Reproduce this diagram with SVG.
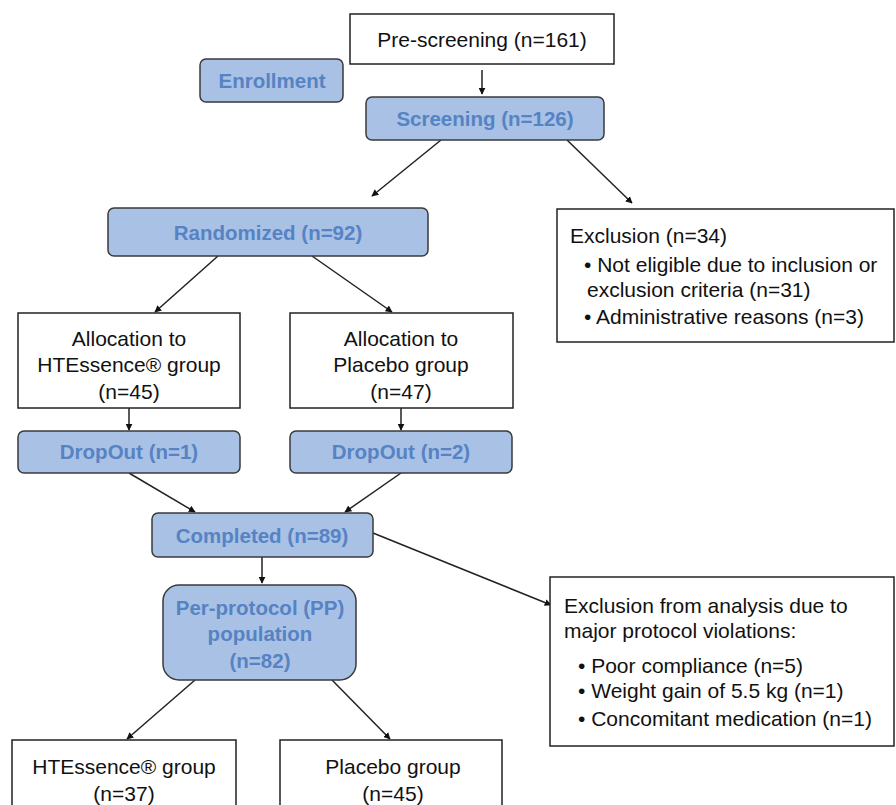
<svg xmlns="http://www.w3.org/2000/svg" width="896" height="805" viewBox="0 0 896 805">
<style>
.w{fill:#fff;stroke:#222;stroke-width:1.5}
.b{fill:#a9c1e5;stroke:#3a3a3a;stroke-width:1.5}
.t{font-family:"Liberation Sans",Arial,sans-serif;font-size:21px;fill:#111}
.bt{font-family:"Liberation Sans",Arial,sans-serif;font-size:20.5px;font-weight:bold;fill:#5583c3}
.c{text-anchor:middle}
.ln{stroke:#222;stroke-width:1.5;fill:none;marker-end:url(#ah)}
</style>
<defs>
<marker id="ah" viewBox="0 0 10 10" refX="9" refY="5" markerWidth="7" markerHeight="7" orient="auto" markerUnits="userSpaceOnUse">
<path d="M0,0 L10,5 L0,10 z" fill="#111"/>
</marker>
</defs>
<rect width="896" height="805" fill="#fff"/>
<g id="connectors">
<line class="ln" x1="482" y1="70" x2="482" y2="94"/>
<line class="ln" x1="441" y1="140" x2="372" y2="196"/>
<line class="ln" x1="567" y1="140" x2="632" y2="203"/>
<line class="ln" x1="218" y1="256" x2="155" y2="312"/>
<line class="ln" x1="312" y1="256" x2="392" y2="312"/>
<line class="ln" x1="129" y1="408" x2="129" y2="430"/>
<line class="ln" x1="401" y1="408" x2="401" y2="430"/>
<line class="ln" x1="129" y1="473" x2="195" y2="512"/>
<line class="ln" x1="401" y1="473" x2="345" y2="512"/>
<line class="ln" x1="262" y1="557" x2="262" y2="583"/>
<line class="ln" x1="373" y1="533" x2="551" y2="605"/>
<line class="ln" x1="195" y1="680" x2="127" y2="739"/>
<line class="ln" x1="332" y1="680" x2="390" y2="739"/>
</g>
<g id="prescreening">
<rect class="w" x="350" y="14" width="264" height="50"/>
<text class="t c" x="482" y="47">Pre-screening (n=161)</text>
</g>
<g id="enrollment">
<rect class="b" x="200" y="59" width="143" height="43" rx="6"/>
<text class="bt c" x="272" y="88">Enrollment</text>
</g>
<g id="screening">
<rect class="b" x="366" y="97" width="238" height="43" rx="6"/>
<text class="bt c" x="485" y="126">Screening (n=126)</text>
</g>
<g id="randomized">
<rect class="b" x="108" y="208" width="320" height="48" rx="6"/>
<text class="bt c" x="268" y="240">Randomized (n=92)</text>
</g>
<g id="exclusion1">
<rect class="w" x="557" y="209" width="337" height="133"/>
<text class="t" x="570" y="243">Exclusion (n=34)</text>
<text class="t" x="584" y="272">• Not eligible due to inclusion or</text>
<text class="t" x="587" y="297">exclusion criteria (n=31)</text>
<text class="t" x="584" y="324">• Administrative reasons (n=3)</text>
</g>
<g id="alloc-ht">
<rect class="w" x="18" y="313" width="222" height="95"/>
<text class="t c" x="129" y="346">Allocation to</text>
<text class="t c" x="129" y="372">HTEssence® group</text>
<text class="t c" x="129" y="399">(n=45)</text>
</g>
<g id="alloc-placebo">
<rect class="w" x="290" y="313" width="223" height="95"/>
<text class="t c" x="401" y="346">Allocation to</text>
<text class="t c" x="401" y="372">Placebo group</text>
<text class="t c" x="401" y="399">(n=47)</text>
</g>
<g id="dropout1">
<rect class="b" x="18" y="431" width="222" height="42" rx="6"/>
<text class="bt c" x="129" y="459">DropOut (n=1)</text>
</g>
<g id="dropout2">
<rect class="b" x="290" y="431" width="222" height="42" rx="6"/>
<text class="bt c" x="401" y="459">DropOut (n=2)</text>
</g>
<g id="completed">
<rect class="b" x="152" y="513" width="221" height="44" rx="6"/>
<text class="bt c" x="262" y="543">Completed (n=89)</text>
</g>
<g id="pp">
<rect class="b" x="163" y="585" width="193" height="95" rx="16"/>
<text class="bt c" x="260" y="615">Per-protocol (PP)</text>
<text class="bt c" x="260" y="641">population</text>
<text class="bt c" x="260" y="668">(n=82)</text>
</g>
<g id="exclusion2">
<rect class="w" x="550" y="577" width="344" height="169"/>
<text class="t" x="564" y="613">Exclusion from analysis due to</text>
<text class="t" x="564" y="638">major protocol violations:</text>
<text class="t" x="578" y="673">• Poor compliance (n=5)</text>
<text class="t" x="578" y="698">• Weight gain of 5.5 kg (n=1)</text>
<text class="t" x="578" y="726">• Concomitant medication (n=1)</text>
</g>
<g id="ht-group">
<rect class="w" x="12" y="740" width="224" height="80"/>
<text class="t c" x="124" y="774">HTEssence® group</text>
<text class="t c" x="124" y="801">(n=37)</text>
</g>
<g id="placebo-group">
<rect class="w" x="280" y="740" width="222" height="80"/>
<text class="t c" x="393" y="774">Placebo group</text>
<text class="t c" x="393" y="801">(n=45)</text>
</g>
</svg>
